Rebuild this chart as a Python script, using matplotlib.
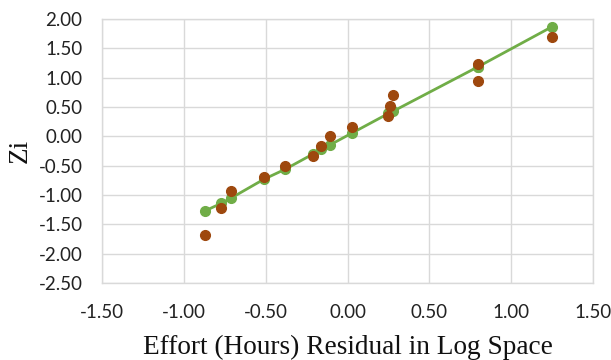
import numpy as np
import matplotlib.pyplot as plt

# residual (x) shared by both series
residual = [-0.87, -0.77, -0.71, -0.51, -0.38, -0.21, -0.16, -0.11, 0.03, 0.25, 0.26, 0.28, 0.80, 0.80, 1.25]
# fitted (green line) and observed Zi (brown dots)
zi_fit = [-1.27, -1.14, -1.05, -0.73, -0.56, -0.30, -0.22, -0.15, 0.06, 0.39, 0.41, 0.43, 1.19, 1.19, 1.87]
zi_obs = [-1.69, -1.23, -0.93, -0.70, -0.50, -0.33, -0.16, 0.01, 0.16, 0.34, 0.52, 0.71, 0.94, 1.24, 1.70]

xticks = [-1.5, -1.0, -0.5, 0.0, 0.5, 1.0, 1.5]
yticks = [2.0, 1.5, 1.0, 0.5, 0.0, -0.5, -1.0, -1.5, -2.0, -2.5]

green = '#70AD47'
brown = '#9E480E'
grid_c = '#D9D9D9'

fig = plt.figure(figsize=(6.11, 3.6), dpi=100)
ax = fig.add_axes([0.167, 0.214, 0.8035, 0.733])

ax.plot(residual, zi_fit, color=green, lw=2.0, marker='o', markersize=7, zorder=3)
ax.plot(residual, zi_obs, color=brown, lw=0, marker='o', markersize=7, zorder=4)

ax.set_xlim(-1.5, 1.5)
ax.set_ylim(-2.5, 2.0)
ax.set_xticks(xticks)
ax.set_yticks(yticks)
ax.set_xticklabels(['{:.2f}'.format(v) for v in xticks])
ax.set_yticklabels(['{:.2f}'.format(v) for v in yticks])
ax.grid(True, color=grid_c, lw=1.0)
ax.set_axisbelow(True)
for s in ax.spines.values():
    s.set_color(grid_c)
    s.set_linewidth(1.0)
ax.tick_params(length=0, labelsize=13.5, colors='#222222')
for lab in ax.get_xticklabels() + ax.get_yticklabels():
    lab.set_fontfamily('Lato')
ax.tick_params(axis='x', pad=15)
ax.tick_params(axis='y', pad=14)

ax.set_xlabel('Effort (Hours) Residual in Log Space', fontfamily='Liberation Serif',
              fontsize=19.6, color='#111111', labelpad=10)
ax.set_ylabel('Zi', fontfamily='Liberation Serif', fontsize=19.6, color='#111111', labelpad=4)

fig.savefig('out.png', dpi=100)
